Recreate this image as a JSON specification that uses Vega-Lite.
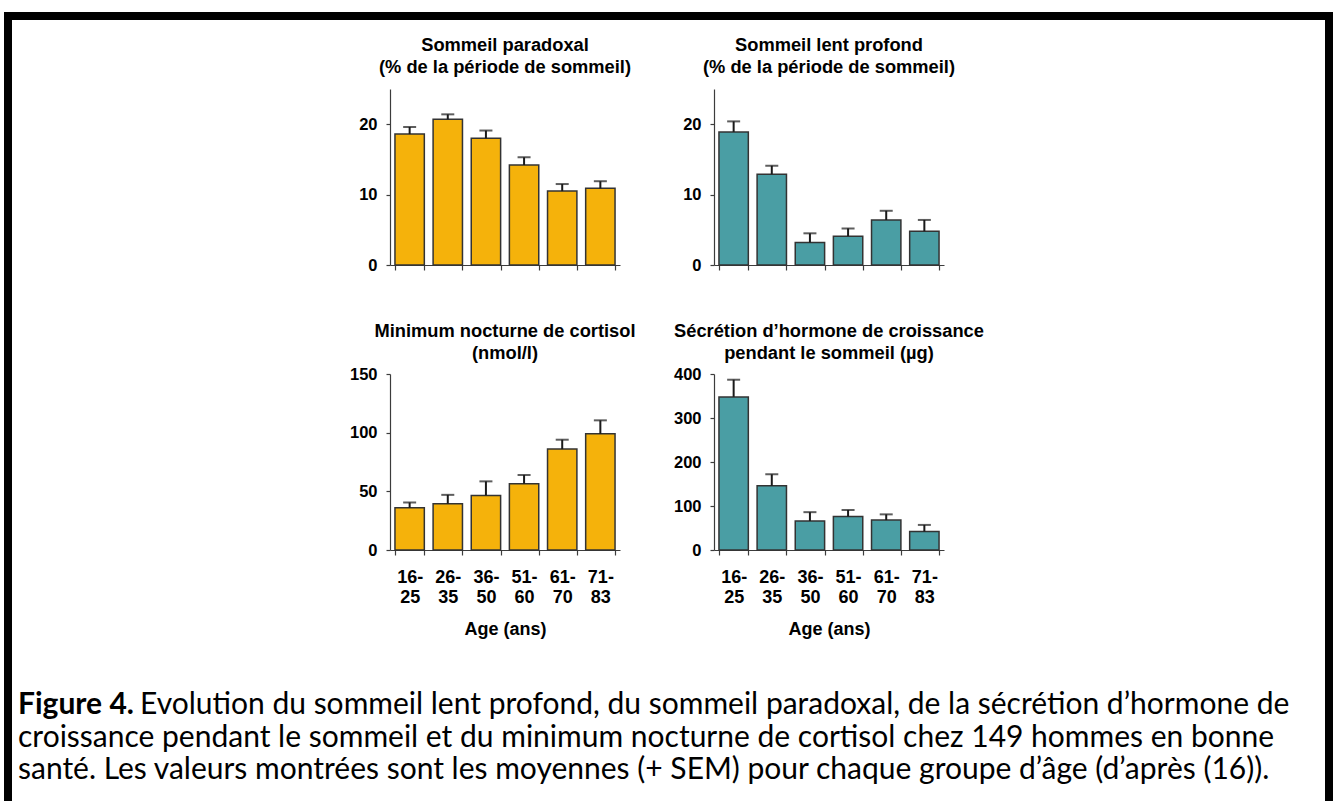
{
  "$schema": "https://vega.github.io/schema/vega-lite/v6.json",
  "padding": {"left": 4, "top": 10, "right": 0, "bottom": 0},
  "background": "white",
  "config": {
    "view": {"stroke": null},
    "font": "Liberation Sans",
    "axis": {"labelFont": "Liberation Sans", "titleFont": "Liberation Sans", "labelColor": "#000", "titleColor": "#000", "domainColor": "#3c3c3c", "tickColor": "#3c3c3c", "domainWidth": 1.2, "tickWidth": 1.2, "grid": false, "labelFontWeight": "bold", "titleFontWeight": "bold"},
    "title": {"font": "Liberation Sans", "fontSize": 18.3, "fontWeight": "bold", "color": "#000", "lineHeight": 22, "offset": 12},
    "concat": {"spacing": 0}
  },
  "datasets": {
    "paradoxal": [
      {"age": "16-25", "mean": 18.6, "upper": 19.6},
      {"age": "26-35", "mean": 20.7, "upper": 21.4},
      {"age": "36-50", "mean": 18.0, "upper": 19.1},
      {"age": "51-60", "mean": 14.2, "upper": 15.3},
      {"age": "61-70", "mean": 10.5, "upper": 11.5},
      {"age": "71-83", "mean": 10.9, "upper": 11.9}
    ],
    "lent": [
      {"age": "16-25", "mean": 18.9, "upper": 20.4},
      {"age": "26-35", "mean": 12.9, "upper": 14.1},
      {"age": "36-50", "mean": 3.2, "upper": 4.5},
      {"age": "51-60", "mean": 4.1, "upper": 5.2},
      {"age": "61-70", "mean": 6.4, "upper": 7.7},
      {"age": "71-83", "mean": 4.8, "upper": 6.4}
    ],
    "cortisol": [
      {"age": "16-25", "mean": 36, "upper": 40.5},
      {"age": "26-35", "mean": 39.5, "upper": 47},
      {"age": "36-50", "mean": 46.5, "upper": 58.5},
      {"age": "51-60", "mean": 56.5, "upper": 64},
      {"age": "61-70", "mean": 86, "upper": 94},
      {"age": "71-83", "mean": 99, "upper": 110.5}
    ],
    "gh": [
      {"age": "16-25", "mean": 348, "upper": 387},
      {"age": "26-35", "mean": 146, "upper": 172},
      {"age": "36-50", "mean": 66, "upper": 86},
      {"age": "51-60", "mean": 76, "upper": 91},
      {"age": "61-70", "mean": 68, "upper": 81},
      {"age": "71-83", "mean": 42, "upper": 57}
    ]
  },
  "spacing": 0,
  "hconcat": [
    {"width": 8, "height": 791, "view": {"fill": "#000", "stroke": null}, "data": {"values": [{}]}, "mark": {"type": "text", "text": ""}},
    {
      "spacing": 0,
      "vconcat": [
        {"width": 1313, "height": 8, "view": {"fill": "#000", "stroke": null}, "data": {"values": [{}]}, "mark": {"type": "text", "text": ""}},
        {"width": 1, "height": 14, "data": {"values": [{}]}, "mark": {"type": "text", "text": ""}},
        {
          "spacing": 0,
          "hconcat": [
            {"width": 337, "height": 1, "data": {"values": [{}]}, "mark": {"type": "text", "text": ""}},
            {
              "columns": 2,
              "spacing": {"row": 109, "column": 94},
              "bounds": "flush",
              "concat": [
                {
                  "width": 230, "height": 176,
                  "title": {"text": ["Sommeil paradoxal", "(% de la période de sommeil)"]},
                  "data": {"name": "paradoxal"},
                  "encoding": {"x": {"field": "age", "type": "ordinal", "sort": null, "title": null, "scale": {"paddingInner": 0.23, "paddingOuter": 0.13}, "axis": {"labels": false, "tickBand": "extent", "tickSize": 5}}},
                  "layer": [
                    {"mark": {"type": "bar", "fill": "#F5B20B", "stroke": "#333", "strokeWidth": 1.5},
                     "encoding": {"y": {"field": "mean", "type": "quantitative", "title": null, "scale": {"domain": [0, 25], "nice": false}, "axis": {"values": [0, 5, 10, 15, 20, 25], "labelExpr": "datum.value % 10 === 0 ? datum.label : ''", "tickSize": 4, "labelFontSize": 16.5, "labelPadding": 9}}}},
                    {"mark": {"type": "rule", "color": "#1a1a1a", "strokeWidth": 2}, "encoding": {"y": {"field": "mean", "type": "quantitative", "title": null}, "y2": {"field": "upper"}}},
                    {"mark": {"type": "tick", "color": "#1a1a1a", "size": 13, "thickness": 2, "orient": "horizontal"}, "encoding": {"y": {"field": "upper", "type": "quantitative", "title": null}}}
                  ]
                },
                {
                  "width": 230, "height": 176,
                  "title": {"text": ["Sommeil lent profond", "(% de la période de sommeil)"]},
                  "data": {"name": "lent"},
                  "encoding": {"x": {"field": "age", "type": "ordinal", "sort": null, "title": null, "scale": {"paddingInner": 0.23, "paddingOuter": 0.13}, "axis": {"labels": false, "tickBand": "extent", "tickSize": 5}}},
                  "layer": [
                    {"mark": {"type": "bar", "fill": "#4A9EA4", "stroke": "#333", "strokeWidth": 1.5},
                     "encoding": {"y": {"field": "mean", "type": "quantitative", "title": null, "scale": {"domain": [0, 25], "nice": false}, "axis": {"values": [0, 5, 10, 15, 20, 25], "labelExpr": "datum.value % 10 === 0 ? datum.label : ''", "tickSize": 4, "labelFontSize": 16.5, "labelPadding": 9}}}},
                    {"mark": {"type": "rule", "color": "#1a1a1a", "strokeWidth": 2}, "encoding": {"y": {"field": "mean", "type": "quantitative", "title": null}, "y2": {"field": "upper"}}},
                    {"mark": {"type": "tick", "color": "#1a1a1a", "size": 13, "thickness": 2, "orient": "horizontal"}, "encoding": {"y": {"field": "upper", "type": "quantitative", "title": null}}}
                  ]
                },
                {
                  "width": 230, "height": 176,
                  "title": {"text": ["Minimum nocturne de cortisol", "(nmol/l)"], "offset": 3},
                  "data": {"name": "cortisol"},
                  "encoding": {"x": {"field": "age", "type": "ordinal", "sort": null, "title": "Age (ans)", "scale": {"paddingInner": 0.23, "paddingOuter": 0.13}, "axis": {"labelExpr": "[slice(datum.label, 0, 3), slice(datum.label, 3)]", "labelAngle": 0, "labelFontSize": 18, "labelLineHeight": 20.5, "labelPadding": 13, "tickBand": "extent", "tickSize": 5, "titleFontSize": 18, "titlePadding": 14}}},
                  "layer": [
                    {"mark": {"type": "bar", "fill": "#F5B20B", "stroke": "#333", "strokeWidth": 1.5},
                     "encoding": {"y": {"field": "mean", "type": "quantitative", "title": null, "scale": {"domain": [0, 150], "nice": false}, "axis": {"values": [0, 50, 100, 150], "tickSize": 4, "labelFontSize": 16.5, "labelPadding": 9}}}},
                    {"mark": {"type": "rule", "color": "#1a1a1a", "strokeWidth": 2}, "encoding": {"y": {"field": "mean", "type": "quantitative", "title": null}, "y2": {"field": "upper"}}},
                    {"mark": {"type": "tick", "color": "#1a1a1a", "size": 13, "thickness": 2, "orient": "horizontal"}, "encoding": {"y": {"field": "upper", "type": "quantitative", "title": null}}}
                  ]
                },
                {
                  "width": 230, "height": 176,
                  "title": {"text": ["Sécrétion d’hormone de croissance", "pendant le sommeil (µg)"], "offset": 3},
                  "data": {"name": "gh"},
                  "encoding": {"x": {"field": "age", "type": "ordinal", "sort": null, "title": "Age (ans)", "scale": {"paddingInner": 0.23, "paddingOuter": 0.13}, "axis": {"labelExpr": "[slice(datum.label, 0, 3), slice(datum.label, 3)]", "labelAngle": 0, "labelFontSize": 18, "labelLineHeight": 20.5, "labelPadding": 13, "tickBand": "extent", "tickSize": 5, "titleFontSize": 18, "titlePadding": 14}}},
                  "layer": [
                    {"mark": {"type": "bar", "fill": "#4A9EA4", "stroke": "#333", "strokeWidth": 1.5},
                     "encoding": {"y": {"field": "mean", "type": "quantitative", "title": null, "scale": {"domain": [0, 400], "nice": false}, "axis": {"values": [0, 100, 200, 300, 400], "tickSize": 4, "labelFontSize": 16.5, "labelPadding": 9}}}},
                    {"mark": {"type": "rule", "color": "#1a1a1a", "strokeWidth": 2}, "encoding": {"y": {"field": "mean", "type": "quantitative", "title": null}, "y2": {"field": "upper"}}},
                    {"mark": {"type": "tick", "color": "#1a1a1a", "size": 13, "thickness": 2, "orient": "horizontal"}, "encoding": {"y": {"field": "upper", "type": "quantitative", "title": null}}}
                  ]
                }
              ]
            }
          ]
        },
        {"width": 1, "height": 50, "data": {"values": [{}]}, "mark": {"type": "text", "text": ""}},
        {
          "width": 1313, "height": 97.5,
          "data": {"values": [
            {"line": 1, "part": "label", "text": "Figure 4."},
            {"line": 1, "part": "first", "text": "Evolution du sommeil lent profond, du sommeil paradoxal, de la sécrétion d’hormone de"},
            {"line": 2, "part": "body", "text": "croissance pendant le sommeil et du minimum nocturne de cortisol chez 149 hommes en bonne"},
            {"line": 3, "part": "body", "text": "santé. Les valeurs montrées sont les moyennes (+ SEM) pour chaque groupe d’âge (d’après (16))."}
          ]},
          "encoding": {
            "y": {"field": "line", "type": "ordinal", "axis": null, "scale": {"padding": 0.5}},
            "x": {"value": 0},
            "text": {"field": "text"}
          },
          "layer": [
            {"transform": [{"filter": "datum.part === 'label'"}], "mark": {"type": "text", "align": "left", "baseline": "middle", "font": "Lato", "fontSize": 30, "fontWeight": "bold", "dx": 6, "color": "#000"}},
            {"transform": [{"filter": "datum.part === 'first'"}], "mark": {"type": "text", "align": "left", "baseline": "middle", "font": "Lato", "fontSize": 30, "dx": 128, "color": "#000"}},
            {"transform": [{"filter": "datum.part === 'body'"}], "mark": {"type": "text", "align": "left", "baseline": "middle", "font": "Lato", "fontSize": 30, "dx": 6, "color": "#000"}}
          ]
        }
      ]
    },
    {"width": 8, "height": 791, "view": {"fill": "#000", "stroke": null}, "data": {"values": [{}]}, "mark": {"type": "text", "text": ""}}
  ]
}
